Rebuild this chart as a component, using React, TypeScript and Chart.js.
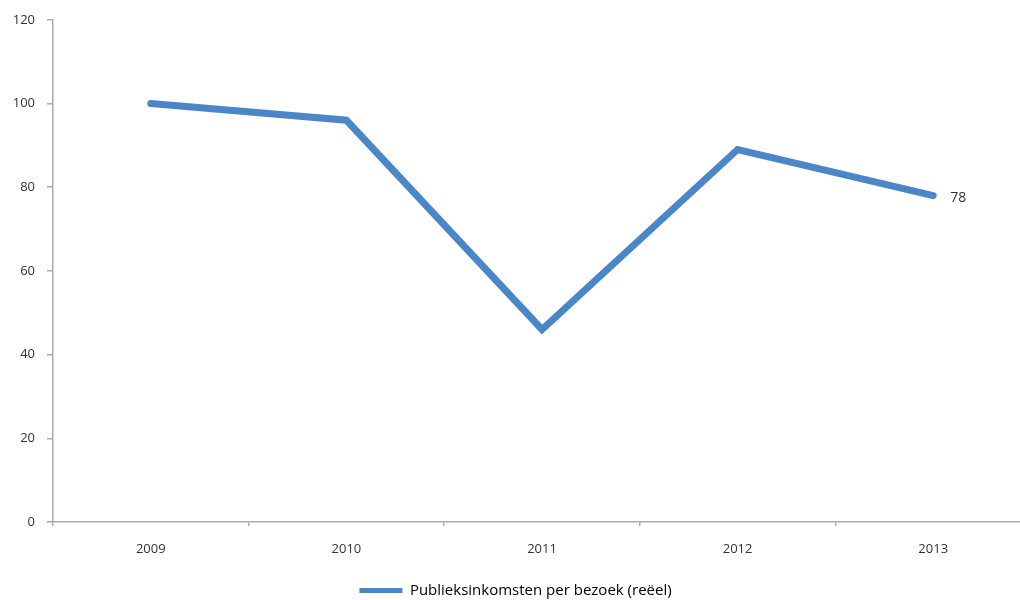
import React, { useEffect, useRef } from "react";
import { Chart, registerables } from "chart.js";

Chart.register(...registerables);

const categories = ["2009", "2010", "2011", "2012", "2013"];
const seriesName = "Publieksinkomsten per bezoek (reëel)";
const values = [100, 96, 46, 89, 78];
const yTicks = [0, 20, 40, 60, 80, 100, 120];
const lastLabel = "78";

const FONT = "'Open Sans', 'DejaVu Sans', sans-serif";
const BLUE = "#4A86C8";
const AXIS = "#ababab";

const lastValueLabel = {
  id: "lastValueLabel",
  afterDatasetsDraw(chart: any) {
    const meta = chart.getDatasetMeta(0);
    const pt = meta.data[meta.data.length - 1];
    if (!pt) return;
    const ctx = chart.ctx;
    ctx.save();
    ctx.font = `14px ${FONT}`;
    ctx.fillStyle = "#333333";
    ctx.textAlign = "left";
    ctx.textBaseline = "middle";
    ctx.fillText(lastLabel, pt.x + 17, pt.y + 2);
    ctx.restore();
  },
};

export default function App() {
  const ref = useRef<HTMLCanvasElement>(null);
  useEffect(() => {
    document.body.style.overflow = "hidden";
    const chart = new Chart(ref.current!, {
      type: "line",
      data: {
        labels: categories,
        datasets: [
          {
            label: seriesName,
            data: values,
            borderColor: BLUE,
            backgroundColor: BLUE,
            borderWidth: 7,
            pointRadius: 0,
            pointHoverRadius: 0,
            tension: 0,
            borderCapStyle: "round",
            borderJoinStyle: "miter",
            fill: false,
          } as any,
        ],
      },
      options: {
        responsive: false,
        animation: false,
        layout: { padding: { top: 15, bottom: 0, left: 0, right: 1 } },
        plugins: {
          tooltip: { enabled: false },
          legend: {
            position: "bottom",
            labels: {
              boxWidth: 43,
              boxHeight: 5,
              padding: 4,
              color: "#333333",
              font: { family: FONT, size: 15 },
              useBorderRadius: true,
              borderRadius: 2.5,
              generateLabels: () => [
                {
                  text: seriesName,
                  fillStyle: BLUE,
                  strokeStyle: BLUE,
                  lineWidth: 0,
                  hidden: false,
                  datasetIndex: 0,
                } as any,
              ],
            },
          },
        },
        scales: {
          x: {
            type: "category",
            offset: true,
            border: { display: true, color: AXIS, width: 1.5 },
            grid: {
              display: true,
              offset: true,
              drawOnChartArea: false,
              drawTicks: true,
              tickLength: 4,
              color: AXIS,
              lineWidth: 1.5,
            },
            ticks: {
              color: "#333333",
              font: { family: FONT, size: 13 },
              padding: 15,
              maxRotation: 0,
            },
            afterFit: (s: any) => {
              s.height = 57;
            },
          },
          y: {
            min: 0,
            max: 120,
            border: { display: true, color: AXIS, width: 1.5 },
            grid: {
              display: true,
              drawOnChartArea: false,
              drawTicks: true,
              tickLength: 6,
              color: AXIS,
              lineWidth: 1.5,
            },
            afterBuildTicks: (s: any) => {
              s.ticks = yTicks.map((v) => ({ value: v }));
            },
            ticks: {
              color: "#333333",
              font: { family: FONT, size: 13 },
              padding: 12,
            },
            afterFit: (s: any) => {
              s.width = 53;
            },
          },
        },
      },
      plugins: [lastValueLabel],
    });
    return () => chart.destroy();
  }, []);
  return (
    <div
      style={{
        position: "fixed",
        left: 0,
        top: 0,
        width: 1020,
        height: 600,
        overflow: "hidden",
        background: "#ffffff",
      }}
    >
      <canvas ref={ref} width={1032} height={608} style={{ display: "block" }} />
    </div>
  );
}
